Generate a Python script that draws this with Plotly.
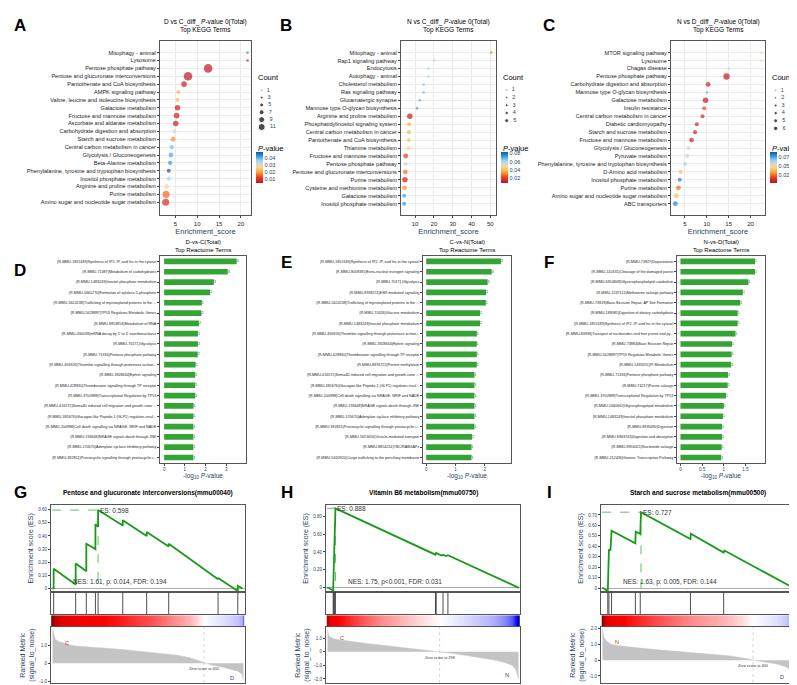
import plotly.graph_objects as go

W, H = 797, 685
FONT = "Liberation Sans"

# ---------------- KEGG data ----------------
a_terms = ["Mitophagy - animal", "Lysosome", "Pentose phosphate pathway", "Pentose and glucuronate interconversions",
           "Pantothenate and CoA biosynthesis", "AMPK signaling pathway", "Valine, leucine and isoleucine biosynthesis",
           "Galactose metabolism", "Fructose and mannose metabolism", "Ascorbate and aldarate metabolism",
           "Carbohydrate digestion and absorption", "Starch and sucrose metabolism", "Central carbon metabolism in cancer",
           "Glycolysis / Gluconeogenesis", "Beta-Alanine metabolism", "Phenylalanine, tyrosine and tryptophan biosynthesis",
           "Inositol phosphate metabolism", "Arginine and proline metabolism", "Purine metabolism",
           "Amino sugar and nucleotide sugar metabolism"]
a_score = [21.5, 21.5, 12.5, 7.9, 7.0, 5.7, 5.5, 5.5, 5.3, 5.1, 4.8, 4.5, 4.2, 4.0, 3.8, 3.5, 3.5, 3.0, 2.9, 2.8]
a_count = [1, 1, 9, 9, 5, 3, 3, 5, 5, 5, 3, 4, 3, 4, 3, 3, 3, 4, 7, 7]
a_p = [0.042, 0.006, 0.003, 0.003, 0.005, 0.020, 0.022, 0.005, 0.005, 0.005, 0.030, 0.017, 0.038, 0.040, 0.042,
       0.048, 0.035, 0.028, 0.014, 0.007]
a_legend_counts = [1, 3, 5, 7, 9, 11]

b_terms = ["Mitophagy - animal", "Rap1 signaling pathway", "Endocytosis", "Autophagy - animal", "Cholesterol metabolism",
           "Ras signaling pathway", "Glutamatergic synapse", "Mannose type O-glycan biosynthesis",
           "Arginine and proline metabolism", "Phosphatidylinositol signaling system", "Central carbon metabolism in cancer",
           "Pantothenate and CoA biosynthesis", "Thiamine metabolism", "Fructose and mannose metabolism",
           "Pentose phosphate pathway", "Pentose and glucuronate interconversions", "Purine metabolism",
           "Cysteine and methionine metabolism", "Galactose metabolism", "Inositol phosphate metabolism"]
b_score = [50.5, 20.3, 17.0, 17.0, 14.5, 14.5, 12.5, 11.0, 7.2, 6.8, 6.7, 6.6, 6.5, 5.0, 5.0, 4.8, 4.6, 4.4, 4.2, 4.2]
b_count = [1, 1, 1, 1, 1, 1, 1, 1, 5, 3, 3, 3, 3, 4, 3, 4, 5, 4, 3, 3]
b_p = [0.030, 0.058, 0.060, 0.060, 0.066, 0.066, 0.070, 0.074, 0.010, 0.036, 0.038, 0.040, 0.044, 0.020, 0.056,
       0.028, 0.011, 0.032, 0.070, 0.072]
b_legend_counts = [1, 2, 3, 4, 5]

c_terms = ["MTOR signaling pathway", "Lysosome", "Chagas disease", "Pentose phosphate pathway",
           "Carbohydrate digestion and absorption", "Mannose type O-glycan biosynthesis", "Galactose metabolism",
           "Insulin resistance", "Central carbon metabolism in cancer", "Diabetic cardiomyopathy",
           "Starch and sucrose metabolism", "Fructose and mannose metabolism", "Glycolysis / Gluconeogenesis",
           "Pyruvate metabolism", "Phenylalanine, tyrosine and tryptophan biosynthesis", "D-Amino acid metabolism",
           "Inositol phosphate metabolism", "Purine metabolism", "Amino sugar and nucleotide sugar metabolism",
           "ABC transporters"]
c_score = [22.5, 22.5, 15.0, 14.5, 10.3, 10.0, 9.7, 9.4, 9.0, 7.7, 7.3, 6.5, 5.8, 5.5, 5.0, 4.0, 3.8, 3.5, 3.0, 2.8]
c_count = [1, 1, 1, 6, 4, 1, 5, 3, 3, 3, 3, 4, 3, 3, 3, 3, 3, 4, 4, 4]
c_p = [0.050, 0.052, 0.062, 0.004, 0.008, 0.070, 0.005, 0.020, 0.010, 0.010, 0.009, 0.008, 0.058, 0.060, 0.064,
       0.040, 0.082, 0.024, 0.040, 0.080]
c_legend_counts = [1, 2, 3, 4, 5, 6]

# ---------------- Reactome data ----------------
d_terms = ["(R-MMU-1855183)Synthesis of IP2, IP, and Ins in the cytosol", "(R-MMU-71387)Metabolism of carbohydrates",
           "(R-MMU-1483249)Inositol phosphate metabolism", "(R-MMU-5661270)Formation of xylulose-5-phosphate",
           "(R-MMU-5624138)Trafficking of myristoylated proteins to the ...", "(R-MMU-5628897)TP53 Regulates Metabolic Genes",
           "(R-MMU-8953854)Metabolism of RNA", "(R-MMU-430039)mRNA decay by 5' to 3' exoribonuclease",
           "(R-MMU-70171)Glycolysis", "(R-MMU-71336)Pentose phosphate pathway",
           "(R-MMU-456926)Thrombin signalling through proteinase activat...", "(R-MMU-3928664)Ephrin signaling",
           "(R-MMU-428930)Thromboxane signalling through TP receptor", "(R-MMU-3700989)Transcriptional Regulation by TP53",
           "(R-MMU-416572)Sema4D induced cell migration and growth-cone ...",
           "(R-MMU-381676)Glucagon-like Peptide-1 (GLP1) regulates insul...",
           "(R-MMU-204998)Cell death signalling via NRAGE, NRIF and NADE", "(R-MMU-193648)NRAGE signals death through JNK",
           "(R-MMU-170670)Adenylate cyclase inhibitory pathway",
           "(R-MMU-392851)Prostacyclin signalling through prostacyclin r..."]
d_val = [3.5, 3.07, 2.4, 2.22, 1.82, 1.8, 1.68, 1.63, 1.63, 1.62, 1.52, 1.5, 1.5, 1.5, 1.42, 1.41, 1.41, 1.41, 1.41, 1.41]
d_count = [3, 3, 3, 2, 1, 2, 2, 1, 2, 2, 1, 1, 1, 2, 1, 1, 1, 1, 1, 1]

e_terms = ["(R-MMU-1855183)Synthesis of IP2, IP, and Ins in the cytosol", "(R-MMU-9009391)Extra-nuclear estrogen signaling",
           "(R-MMU-70171)Glycolysis", "(R-MMU-8939211)ESR-mediated signaling",
           "(R-MMU-5624138)Trafficking of myristoylated proteins to the ...", "(R-MMU-70326)Glucose metabolism",
           "(R-MMU-1483249)Inositol phosphate metabolism", "(R-MMU-456926)Thrombin signalling through proteinase activat...",
           "(R-MMU-3928664)Ephrin signaling", "(R-MMU-428930)Thromboxane signalling through TP receptor",
           "(R-MMU-8876725)Protein methylation", "(R-MMU-416572)Sema4D induced cell migration and growth-cone ...",
           "(R-MMU-381676)Glucagon-like Peptide-1 (GLP1) regulates insul...",
           "(R-MMU-204998)Cell death signalling via NRAGE, NRIF and NADE", "(R-MMU-193648)NRAGE signals death through JNK",
           "(R-MMU-170670)Adenylate cyclase inhibitory pathway",
           "(R-MMU-392851)Prostacyclin signalling through prostacyclin r...", "(R-MMU-5653656)Vesicle-mediated transport",
           "(R-MMU-8854214)TBC/RABGAPs", "(R-MMU-5620920)Cargo trafficking to the periciliary membrane"]
e_val = [2.56, 2.24, 2.1, 2.05, 2.04, 1.84, 1.84, 1.73, 1.73, 1.73, 1.73, 1.65, 1.65, 1.65, 1.65, 1.65, 1.65, 1.57,
         1.55, 1.55]
e_count = [2, 3, 3, 2, 1, 2, 2, 1, 1, 1, 1, 1, 1, 1, 1, 1, 1, 2, 1, 1]

f_terms = ["(R-MMU-73927)Depurination", "(R-MMU-110331)Cleavage of the damaged purine",
           "(R-MMU-6814848)Glycerophospholipid catabolism", "(R-MMU-1237112)Methionine salvage pathway",
           "(R-MMU-73929)Base-Excision Repair, AP Site Formation", "(R-MMU-189085)Digestion of dietary carbohydrate",
           "(R-MMU-1855183)Synthesis of IP2, IP, and Ins in the cytosol",
           "(R-MMU-83936)Transport of nucleosides and free purine and py...", "(R-MMU-73884)Base Excision Repair",
           "(R-MMU-5628897)TP53 Regulates Metabolic Genes", "(R-MMU-1483255)PI Metabolism",
           "(R-MMU-71336)Pentose phosphate pathway", "(R-MMU-74217)Purine salvage",
           "(R-MMU-3700989)Transcriptional Regulation by TP53", "(R-MMU-1660662)Glycosphingolipid metabolism",
           "(R-MMU-1483249)Inositol phosphate metabolism", "(R-MMU-8935690)Digestion",
           "(R-MMU-8963743)Digestion and absorption", "(R-MMU-8956321)Nucleotide salvage",
           "(R-MMU-212436)Generic Transcription Pathway"]
f_val = [1.72, 1.72, 1.57, 1.44, 1.38, 1.32, 1.32, 1.27, 1.19, 1.18, 1.17, 1.10, 1.09, 1.05, 1.00, 0.98, 0.96, 0.96,
         0.95, 0.94]
f_count = [1] * 20

# ---------------- GSEA data ----------------
g_es_rank = [0, 4, 4, 62, 62, 90, 90, 114, 114, 121, 121, 186, 186, 249, 249, 307, 307, 437, 437, 489, 489, 501]
g_es_val = [0, 0, 0.15, 0.03, 0.19, 0.13, 0.34, 0.30, 0.49, 0.47, 0.598, 0.48, 0.52, 0.40, 0.43, 0.32, 0.34, 0.07,
            0.08, -0.02, 0.02, 0.0]
g_hits = [4, 62, 90, 114, 121, 186, 249, 307, 437, 489]
g_m_rank = [1, 8, 17, 30, 45, 60, 80, 105, 130, 160, 195, 225, 260, 300, 330, 360, 380, 400, 420, 445, 470, 490, 500, 504]
g_m_val = [1.9, 1.35, 1.2, 1.1, 1.02, 0.96, 0.92, 0.88, 0.84, 0.80, 0.74, 0.68, 0.62, 0.52, 0.44, 0.32, 0.18, 0.0,
           -0.1, -0.2, -0.32, -0.45, -0.6, -0.95]
g_zero = 400

h_es_rank = [0, 3, 16, 18, 19, 22, 287, 289, 303, 307, 315, 320, 508]
h_es_val = [0, 0, -0.03, 0.43, 0.43, 0.888, 0.37, 0.39, 0.36, 0.37, 0.355, 0.365, 0.0]
h_hits = [16, 18, 19, 22, 287, 289, 307, 320]
h_m_rank = [1, 5, 12, 25, 45, 70, 100, 140, 180, 220, 260, 298, 330, 370, 410, 440, 470, 490, 500, 507]
h_m_val = [1.6, 1.15, 1.0, 0.9, 0.82, 0.72, 0.62, 0.5, 0.38, 0.25, 0.12, 0.0, -0.12, -0.28, -0.45, -0.6, -0.78,
           -1.0, -1.3, -2.0]
h_zero = 298

i_es_rank = [0, 3, 15, 16, 18, 22, 25, 88, 89, 101, 103, 234, 235, 322, 324, 508]
i_es_val = [0, 0, -0.03, 0.18, 0.37, 0.36, 0.55, 0.43, 0.54, 0.52, 0.727, 0.47, 0.52, 0.34, 0.36, 0.0]
i_hits = [15, 18, 25, 88, 101, 234, 322]
i_m_rank = [1, 5, 12, 25, 45, 70, 100, 140, 180, 220, 260, 300, 340, 370, 400, 430, 460, 485, 500, 507]
i_m_val = [2.0, 1.45, 1.2, 1.0, 0.92, 0.84, 0.77, 0.68, 0.6, 0.52, 0.45, 0.37, 0.27, 0.15, 0.0, -0.12, -0.22,
           -0.4, -0.6, -1.35]
i_zero = 400

# ---------------- helpers ----------------
fig = go.Figure()
layout = {}
annos = []
naxis = [0]


def px(x): return x / W
def py(y): return 1 - y / H


def new_axes(x0, x1, y0, y1, xa=None, ya=None):
    naxis[0] += 1
    n = naxis[0]
    s = "" if n == 1 else str(n)
    xa = dict(xa or {})
    ya = dict(ya or {})
    xa.update(domain=[px(x0), px(x1)], anchor="y" + s)
    ya.update(domain=[py(y1), py(y0)], anchor="x" + s)
    layout["xaxis" + s] = xa
    layout["yaxis" + s] = ya
    return "x" + s, "y" + s


def text(x, y, t, size=6, color="black", xanchor="center", yanchor="middle", bold=False):
    if bold:
        t = "<b>" + t + "</b>"
    annos.append(dict(x=px(x), y=py(y), xref="paper", yref="paper", text=t, showarrow=False,
                      font=dict(size=size, color=color, family=FONT), xanchor=xanchor, yanchor=yanchor))


def dsize(c): return 1.8 + 0.75 * c


pcolors = [[0, "#c0141c"], [0.18, "#ee3b26"], [0.35, "#f9a72c"], [0.5, "#f1d98e"], [0.6, "#d9d6cc"],
           [0.72, "#a6d3ee"], [0.86, "#2e9ceb"], [1, "#2050a8"]]
border = dict(showline=True, linecolor="#555", linewidth=1, mirror=True)
tickf = dict(size=6, family=FONT, color="#222")
hidden = dict(visible=False)

# ---------------- KEGG panels ----------------
kegg = [
    ("A", "D vs C_diff_ <i>P</i>-value 0(Total)", a_terms, a_score, a_count, a_p, a_legend_counts, 152, 243,
     [1.5, 22.3], [5, 10, 15, 20], [0.003, 0.048], [0.01, 0.02, 0.03, 0.04], "{:.2f}", 249, 12),
    ("B", "N vs C_diff_ <i>P</i>-value 0(Total)", b_terms, b_score, b_count, b_p, b_legend_counts, 393, 488,
     [2.5, 53], [10, 20, 30, 40, 50], [0.008, 0.082], [0.02, 0.04, 0.06, 0.08], "{:.2f}", 494, 278),
    ("C", "N vs D_diff_ <i>P</i>-value 0(Total)", c_terms, c_score, c_count, c_p, c_legend_counts, 663, 757,
     [1.8, 23.3], [5, 10, 15, 20], [0.003, 0.088], [0.025, 0.05, 0.075], "{:.3f}", 763, 541),
]
for k, (lab, title, terms, score, count, pv, lcounts, x0, x1, xr, xt, cr, ct, cfmt, lx, labx) in enumerate(kegg):
    xa, ya = new_axes(x0, x1, 32, 207,
                      dict(range=xr, tickvals=xt, showgrid=True, gridcolor="#ebebeb", zeroline=False, ticks="outside",
                           ticklen=2, tickfont=tickf, **border,
                           title=dict(text="Enrichment_score", font=dict(size=7.5, family=FONT), standoff=0)),
                      dict(type="category", autorange="reversed", showgrid=True, gridcolor="#ebebeb", ticks="outside",
                           ticklen=2, tickfont=dict(size=5.6, family=FONT, color="#222"), **border))
    cax = "coloraxis" if k == 0 else f"coloraxis{k + 1}"
    fig.add_trace(go.Scatter(x=score, y=terms, mode="markers", xaxis=xa, yaxis=ya, showlegend=False,
                             marker=dict(size=[dsize(c) for c in count], color=pv, coloraxis=cax,
                                         line=dict(width=0))))
    layout[cax] = dict(colorscale=pcolors, cmin=cr[0], cmax=cr[1],
                       colorbar=dict(x=px(lx - 1), xanchor="left", y=py(175), yanchor="bottom", lenmode="pixels",
                                     len=31, thickness=7, tickvals=ct, ticktext=[cfmt.format(v) for v in ct],
                                     tickfont=dict(size=5.5, family=FONT), outlinewidth=0, ticklen=2, ypad=0, xpad=0))
    text(lx - 1, 140, "<i>P</i>-value", size=7.5, xanchor="left")
    n = len(lcounts)
    lxa, lya = new_axes(lx, lx + 14, 76, 76 + 8.2 * n,
                        dict(hidden, range=[-0.5, 1]),
                        dict(hidden, type="category", autorange="reversed"))
    fig.add_trace(go.Scatter(x=[0] * n, y=[str(c) for c in lcounts], mode="markers+text", xaxis=lxa, yaxis=lya,
                             text=["  " + str(c) for c in lcounts], textposition="middle right",
                             textfont=dict(size=5.5, family=FONT), cliponaxis=False, showlegend=False,
                             marker=dict(size=[dsize(c) * 0.7 for c in lcounts], color="black")))
    text(lx - 1, 69, "Count", size=7.5, xanchor="left")
    text((x0 + x1) / 2, 17, title + "<br>Top KEGG Terms", size=6.5)
    text(labx, 17, lab, size=17, bold=True)

# ---------------- Reactome panels ----------------
react = [
    ("D", "D-vs-C(Total)", d_terms, d_val, d_count, 152, 238, [-0.2, 3.95], [0, 1, 2, 3], 12, 262),
    ("E", "C-vs-N(Total)", e_terms, e_val, e_count, 415, 503, [-0.11, 2.9], [0, 1, 2], 278, 254),
    ("F", "N-vs-D(Total)", f_terms, f_val, f_count, 669, 757, [-0.08, 1.95], [0, 0.5, 1.0, 1.5], 541, 254),
]
for lab, title, terms, vals, cnt, x0, x1, xr, xt, labx, laby in react:
    xa, ya = new_axes(x0, x1, 248, 455,
                      dict(range=xr, tickvals=xt, showgrid=False, zeroline=False, ticks="outside", ticklen=2,
                           tickfont=dict(size=4.5, family=FONT), **border,
                           title=dict(text="-log<sub>10</sub> <i>P</i>-value", font=dict(size=6.5, family=FONT),
                                      standoff=2)),
                      dict(type="category", autorange="reversed", showgrid=False, ticks="outside", ticklen=2,
                           tickfont=dict(size=3.7, family=FONT, color="#222"), **border))
    fig.add_trace(go.Bar(x=vals, y=terms, orientation="h", xaxis=xa, yaxis=ya, showlegend=False,
                         marker=dict(color="#34a534", line=dict(width=0)), width=0.55,
                         text=[str(c) for c in cnt], textposition="outside", cliponaxis=False,
                         textfont=dict(size=3.5, family=FONT)))
    text((x0 + x1) / 2, 238, title + "<br>Top Reactome Terms", size=6)
    text(labx, laby, lab, size=17, bold=True)

# ---------------- GSEA panels ----------------
gsea = [
    ("G", "Pentose and glucuronate interconversions(mmu00040)", g_es_rank, g_es_val, g_hits, g_m_rank, g_m_val,
     g_zero, 43, 237, 505, [-0.03, 0.64], [0, 0.1, 0.2, 0.3, 0.4, 0.5, 0.6], [-1.1, 2.0], [-1.0, 0, 1.0],
     "NES: 1.61, p: 0.014, FDR: 0.194", ("C", "D"), 12),
    ("H", "Vitamin B6 metabolism(mmu00750)", h_es_rank, h_es_val, h_hits, h_m_rank, h_m_val, h_zero, 318, 512, 508,
     [-0.05, 0.93], [0, 0.2, 0.4, 0.6, 0.8], [-2.3, 1.8], [-2.0, -1.0, 0, 1.0], "NES: 1.75, p<0.001, FDR: 0.031",
     ("C", "N"), 279),
    ("I", "Starch and sucrose metabolism(mmu00500)", i_es_rank, i_es_val, i_hits, i_m_rank, i_m_val, i_zero, 593, 787,
     508, [-0.04, 0.8], [0, 0.1, 0.2, 0.3, 0.4, 0.5, 0.6, 0.7], [-1.45, 2.1], [-1.0, 0, 1.0, 2.0],
     "NES: 1.63, p: 0.005, FDR: 0.144", ("N", "D"), 541),
]
rwb = [[0, "#00008b"], [0.15, "#0000ff"], [0.35, "#b0b0ff"], [0.5, "#ffffff"], [0.62, "#ff9090"],
       [0.72, "#ff0000"], [1, "#8b0000"]]
for lab, title, er, ev, hits, mr, mv, zero, x0, x1, N, esr, est, mrr, mt, nes, (pos, neg), labx in gsea:
    xcommon = dict(range=[-3, N + 3], showticklabels=False, ticks="", showgrid=False, zeroline=False, **border)
    xa, ya = new_axes(x0, x1, 497, 585, xcommon,
                      dict(range=esr, tickvals=est, ticktext=["0"] + ["{:.2f}".format(v) for v in est[1:]],
                           showgrid=False, zeroline=True, zerolinecolor="#aaa", zerolinewidth=1, ticks="outside",
                           ticklen=2, tickfont=dict(size=4.5, family=FONT), **border,
                           title=dict(text="Enrichment score (ES)", font=dict(size=7, family=FONT), standoff=3)))
    peak = max(ev)
    prank = er[ev.index(peak)]
    fig.add_trace(go.Scatter(x=[0, prank, prank], y=[peak, peak, 0], mode="lines", xaxis=xa, yaxis=ya,
                             line=dict(color="#3cb043", width=0.8, dash="dash"), showlegend=False))
    fig.add_trace(go.Scatter(x=er, y=ev, mode="lines", xaxis=xa, yaxis=ya,
                             line=dict(color="#1a9a1a", width=1.8), showlegend=False))
    annos.append(dict(x=prank, y=peak, xref=xa, yref=ya, text="ES: {:.3f}".format(peak), showarrow=False,
                      xanchor="left", yanchor="middle", font=dict(size=6.5, family=FONT, color="#333")))
    annos.append(dict(x=N * 0.1, y=0, xref=xa, yref=ya, text=nes, showarrow=False, xanchor="left", yanchor="bottom",
                      font=dict(size=6.5, family=FONT, color="#333")))
    xa2, ya2 = new_axes(x0, x1, 585, 607, xcommon, dict(range=[0, 1], showticklabels=False, showgrid=False,
                                                        zeroline=False, **border))
    hx, hy = [], []
    for h in hits:
        hx += [h, h, None]
        hy += [0, 1, None]
    fig.add_trace(go.Scatter(x=hx, y=hy, mode="lines", xaxis=xa2, yaxis=ya2, line=dict(color="#222", width=0.8),
                             showlegend=False))
    xa3, ya3 = new_axes(x0, x1, 608, 620, dict(xcommon, showline=False),
                        dict(range=[0, 1], showticklabels=False, showgrid=False, zeroline=False))
    mm = max(abs(v) for v in mv)
    fig.add_trace(go.Heatmap(x=mr, y=[0, 1], z=[mv, mv], xaxis=xa3, yaxis=ya3, colorscale=rwb, zmid=0,
                             zmin=-mm, zmax=mm, zsmooth="best", showscale=False, hoverinfo="skip"))
    xa4, ya4 = new_axes(x0, x1, 620, 676, xcommon,
                        dict(range=mrr, tickvals=mt, ticktext=["{:.1f}".format(v) if v else "0" for v in mt],
                             showgrid=False, zeroline=False, ticks="outside", ticklen=2,
                             tickfont=dict(size=4.5, family=FONT), **border,
                             title=dict(text="Ranked Metric<br>(signal_to_noise)", font=dict(size=7, family=FONT),
                                        standoff=3)))
    fig.add_trace(go.Scatter(x=mr, y=mv, mode="lines", fill="tozeroy", fillcolor="#c4c4c4", xaxis=xa4, yaxis=ya4,
                             line=dict(color="#c4c4c4", width=0.5), showlegend=False))
    fig.add_trace(go.Scatter(x=[zero, zero], y=mrr, mode="lines", xaxis=xa4, yaxis=ya4,
                             line=dict(color="#bbb", width=0.6, dash="dot"), showlegend=False))
    annos.append(dict(x=zero, y=0, xref=xa4, yref=ya4, text="Zero score at {}".format(zero), showarrow=False,
                      xanchor="center", yanchor="top", yshift=-2, font=dict(size=3.8, family=FONT, color="#333")))
    annos.append(dict(x=N * 0.08, y=mrr[1] * 0.55, xref=xa4, yref=ya4, text=pos, showarrow=False,
                      font=dict(size=5.5, family=FONT, color="#d03030")))
    annos.append(dict(x=N * 0.94, y=mrr[0] * 0.75, xref=xa4, yref=ya4, text=neg, showarrow=False,
                      font=dict(size=5.5, family=FONT, color="#3030c0")))
    text((x0 + x1) / 2, 485, title, size=6.5, bold=True)
    text(labx, 485, lab, size=17, bold=True)

fig.update_layout(**layout)
fig.update_layout(width=W, height=H, margin=dict(l=0, r=0, t=0, b=0), paper_bgcolor="white",
                  plot_bgcolor="white", annotations=annos, font=dict(family=FONT), bargap=0.45, showlegend=False)
fig.write_html("out.html")
